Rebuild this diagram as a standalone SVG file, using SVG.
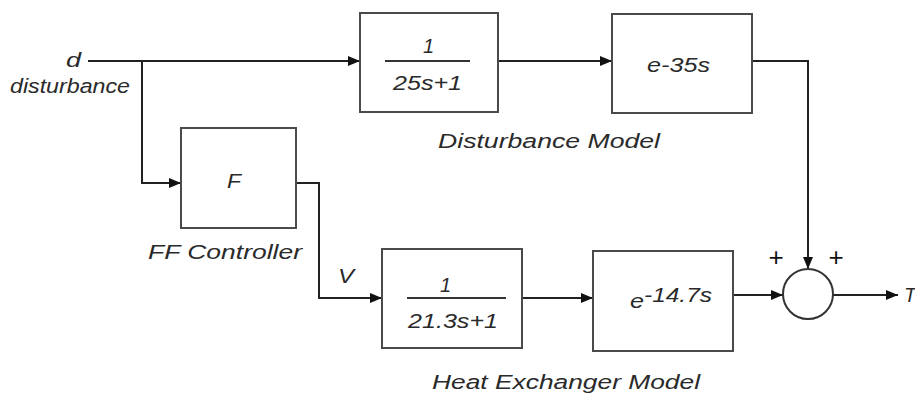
<svg xmlns="http://www.w3.org/2000/svg" width="915" height="393" viewBox="0 0 915 393">
<style>
.blk{fill:#fff;stroke:#4a4a4a;stroke-width:2}
.ln{fill:none;stroke:#222;stroke-width:2}
.frac{stroke:#333;stroke-width:2}
text{font-family:"Liberation Sans",Arial,sans-serif;font-style:italic;font-size:20px;fill:#2a2a2a}
.pl{font-style:normal;font-size:26px;fill:#111}
</style>
<defs>
<marker id="ah" viewBox="0 0 12 10" refX="12" refY="5" markerWidth="12" markerHeight="10" markerUnits="userSpaceOnUse" orient="auto">
<path d="M0,0 L12,5 L0,10 z" fill="#111"/>
</marker>
</defs>
<rect width="915" height="393" fill="#fff"/>
<g id="connectors">
<path class="ln" d="M88,61 H360" marker-end="url(#ah)"/>
<path class="ln" d="M142,61 V183 H181" marker-end="url(#ah)"/>
<path class="ln" d="M296,183 H319 V298 H382" marker-end="url(#ah)"/>
<path class="ln" d="M498,61 H612" marker-end="url(#ah)"/>
<path class="ln" d="M752,61 H808 V269" marker-end="url(#ah)"/>
<path class="ln" d="M522,298 H593" marker-end="url(#ah)"/>
<path class="ln" d="M733,295 H783" marker-end="url(#ah)"/>
<path class="ln" d="M833,295 H898" marker-end="url(#ah)"/>
</g>
<g id="input-d">
<text x="66" y="67" textLength="15" lengthAdjust="spacingAndGlyphs">d</text>
<text x="10" y="93" textLength="120" lengthAdjust="spacingAndGlyphs">disturbance</text>
</g>
<g id="dist-lag">
<rect class="blk" x="360" y="13" width="138" height="99"/>
<line class="frac" x1="385" y1="61" x2="470" y2="61"/>
<text x="423" y="53">1</text>
<text x="393" y="90" textLength="69" lengthAdjust="spacingAndGlyphs">25s+1</text>
</g>
<g id="dist-delay">
<rect class="blk" x="612" y="14" width="140" height="99"/>
<text x="647" y="72" textLength="63" lengthAdjust="spacingAndGlyphs">e-35s</text>
</g>
<g id="dist-label">
<text x="438" y="148" textLength="222" lengthAdjust="spacingAndGlyphs">Disturbance Model</text>
</g>
<g id="ff-controller">
<rect class="blk" x="181" y="128" width="115" height="100"/>
<text x="227" y="188" textLength="14" lengthAdjust="spacingAndGlyphs">F</text>
<text x="148" y="259" textLength="154" lengthAdjust="spacingAndGlyphs">FF Controller</text>
</g>
<g id="label-v">
<text x="338" y="283" textLength="16" lengthAdjust="spacingAndGlyphs">V</text>
</g>
<g id="hx-lag">
<rect class="blk" x="382" y="249" width="140" height="99"/>
<line class="frac" x1="407" y1="298" x2="506" y2="298"/>
<text x="440" y="292">1</text>
<text x="408" y="328" textLength="90" lengthAdjust="spacingAndGlyphs">21.3s+1</text>
</g>
<g id="hx-delay">
<rect class="blk" x="593" y="251" width="140" height="100"/>
<text x="630" y="308" textLength="14" lengthAdjust="spacingAndGlyphs">e</text>
<text x="644" y="302" textLength="68" lengthAdjust="spacingAndGlyphs">-14.7s</text>
</g>
<g id="hx-label">
<text x="432" y="389" textLength="268" lengthAdjust="spacingAndGlyphs">Heat Exchanger Model</text>
</g>
<g id="sum">
<circle cx="808" cy="294" r="25" fill="#fff" stroke="#333" stroke-width="2"/>
<text class="pl" x="776" y="266" text-anchor="middle">+</text>
<text class="pl" x="836" y="266" text-anchor="middle">+</text>
</g>
<g id="output-t">
<text x="904" y="302">T</text>
</g>
</svg>
